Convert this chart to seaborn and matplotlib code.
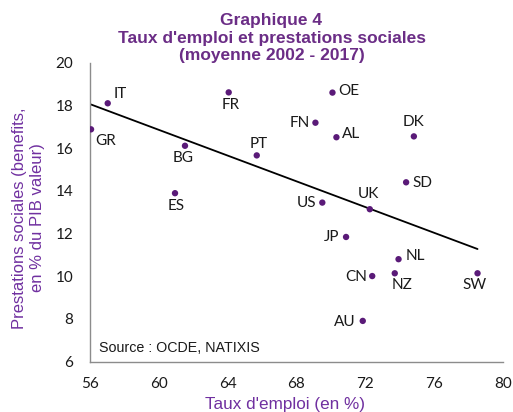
import numpy as np
import pandas as pd
import matplotlib
matplotlib.use("Agg")
import matplotlib.pyplot as plt
import seaborn as sns

countries = ["IT", "GR", "FR", "BG", "PT", "ES", "OE", "FN", "AL", "DK",
             "SD", "US", "UK", "JP", "NL", "CN", "NZ", "SW", "AU"]
emploi = [57.03, 56.06, 64.06, 61.52, 65.69, 60.94, 70.09, 69.10, 70.32, 74.82,
          74.37, 69.50, 72.26, 70.88, 73.93, 72.40, 73.71, 78.52, 71.85]
prestations = [18.10, 16.88, 18.61, 16.11, 15.66, 13.89, 18.60, 17.19, 16.51, 16.55,
               14.40, 13.45, 13.14, 11.84, 10.80, 10.01, 10.14, 10.14, 7.91]
# label placement: (dx px, dy px, ha, va)
label_pos = {
    "IT": (6, 9, "left", "center"), "GR": (4, -12, "left", "center"),
    "FR": (2, -13, "center", "center"), "BG": (-2, -12, "center", "center"),
    "PT": (2, 11, "center", "center"), "ES": (1, -12.5, "center", "center"),
    "OE": (6, 2, "left", "center"), "FN": (-6, -0.5, "right", "center"),
    "AL": (6, 3, "left", "center"), "DK": (0, 14, "center", "center"),
    "SD": (6, -1, "left", "center"), "US": (-6, -0.5, "right", "center"),
    "UK": (-1, 15, "center", "center"), "JP": (-7, -0.5, "right", "center"),
    "NL": (7, 3, "left", "center"), "CN": (-5, -0.5, "right", "center"),
    "NZ": (7, -12, "center", "center"), "SW": (-3, -12, "center", "center"),
    "AU": (-7, -1, "right", "center"),
}

df = pd.DataFrame({"pays": countries, "emploi": emploi, "prestations": prestations})

sns.set_style("white")
plt.rcParams["font.family"] = ["Lato", "DejaVu Sans"]

W, H = 513, 412
fig = plt.figure(figsize=(W / 100, H / 100), dpi=100)
ax = fig.add_axes([90 / W, 1 - 361.7 / H, (503 - 90) / W, (361.7 - 62.7) / H])

dot = "#5a1a78"
purple_title = "#6b2d86"
purple_lab = "#7030a0"
arial = ["Liberation Sans", "DejaVu Sans"]

sns.regplot(data=df, x="emploi", y="prestations", ax=ax, scatter=False, ci=None,
            truncate=True, line_kws={"color": "black", "lw": 1.3})
sns.scatterplot(data=df, x="emploi", y="prestations", ax=ax, color=dot, s=21,
                edgecolor="none", zorder=3)

for c, x, y in zip(countries, emploi, prestations):
    dx, dy, ha, va = label_pos[c]
    ax.annotate(c, (x, y), xytext=(dx / 1.389, dy / 1.389), textcoords="offset points",
                ha=ha, va=va, fontsize=11, color="#1a1a1a")

ax.set_xlim(56, 80)
ax.set_ylim(6, 20)
ax.set_xticks(np.arange(56, 81, 4))
ax.set_yticks(np.arange(6, 21, 2))
ax.tick_params(axis="both", direction="out", length=5, width=1, color="#8c8c8c",
               labelsize=11, labelcolor="#1a1a1a")
ax.tick_params(axis="x", pad=6)
ax.tick_params(axis="y", pad=7)
for s in ["top", "right"]:
    ax.spines[s].set_visible(False)
for s in ["left", "bottom"]:
    ax.spines[s].set_color("#8c8c8c")
    ax.spines[s].set_linewidth(1)

ax.set_xlabel("")
ax.set_ylabel("")
fig.text(285 / W, 1 - 404 / H, "Taux d'emploi (en %)", ha="center", va="center",
         fontsize=12.3, color=purple_lab, family=arial)
fig.text(28.5 / W, 1 - 218 / H, "Prestations sociales (benefits,\nen % du PIB valeur)",
         ha="center", va="center", rotation=90, fontsize=12, color=purple_lab,
         linespacing=1.2, family=arial)
fig.text(271.5 / W, 1 - 38 / H,
         "Graphique 4\nTaux d'emploi et prestations sociales\n(moyenne 2002 - 2017)",
         ha="center", va="center", fontsize=12.5, fontweight="bold", color=purple_title,
         linespacing=1.2, family=arial)
ax.text(0.022, 0.046, "Source : OCDE, NATIXIS", transform=ax.transAxes, ha="left",
        va="center", fontsize=10.3, color="#1a1a1a", family=arial)

fig.savefig("out.png", dpi=100)
